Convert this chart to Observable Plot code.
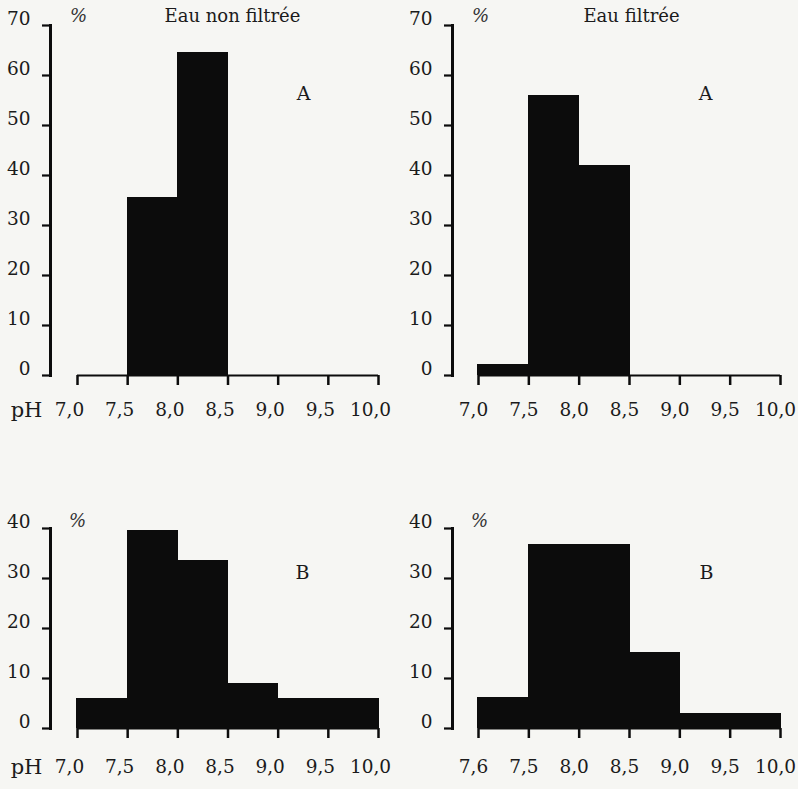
<!DOCTYPE html>
<html>
<head>
<meta charset="utf-8">
<script src="https://cdn.jsdelivr.net/npm/d3@7"></script>
<script src="https://cdn.jsdelivr.net/npm/@observablehq/plot@0.6"></script>
<style>
  html, body { margin: 0; padding: 0; background: #f6f6f3; }
  #wrap { position: relative; width: 798px; height: 789px; overflow: hidden; }
  .panel { position: absolute; }
  .panel svg { overflow: visible; }
</style>
</head>
<body>
<div id="wrap"></div>
<script>
// ---- data ----
const phTicks = [7.0, 7.5, 8.0, 8.5, 9.0, 9.5, 10.0];
const phLabels = ["7,0", "7,5", "8,0", "8,5", "9,0", "9,5", "10,0"];
const phLabelsBR = ["7,6", "7,5", "8,0", "8,5", "9,0", "9,5", "10,0"];
const binLo = [7.0, 7.5, 8.0, 8.5, 9.0, 9.5];
const binHi = [7.5, 8.0, 8.5, 9.0, 9.5, 10.0];
const pctA_nonFiltree = [0, 35.7, 64.6, 0, 0, 0];
const pctA_filtree = [2.3, 56, 42.1, 0, 0, 0];
const pctB_nonFiltree = [6.1, 39.6, 33.7, 9.0, 6.1, 6.1];
const pctB_filtree = [6.2, 36.8, 36.8, 15.2, 3.1, 3.1];
const yTicksA = [0, 10, 20, 30, 40, 50, 60, 70];
const yTicksB = [0, 10, 20, 30, 40];
const titles = ["Eau non filtrée", "Eau filtrée"];
const letters = ["A", "B"];

const FONT = "DejaVu Serif";
const INK = "#0c0c0c";
const TXT = "#1b1b1b";

function panel(o) {
  const bins = binLo.map((lo, i) => ({lo, hi: binHi[i], v: o.values[i]})).filter(d => d.v > 0);
  const yMax = o.yTicks[o.yTicks.length - 1];
  const marks = [
    Plot.rectY(bins, {x1: "lo", x2: "hi", y: "v", fill: INK, insetLeft: -0.6, insetRight: -0.6, shapeRendering: "crispEdges"}),
    Plot.ruleY([0], {x1: phTicks[0], x2: phTicks[phTicks.length - 1], stroke: INK, strokeWidth: 2}),
    Plot.frame({anchor: "left", stroke: INK, strokeWidth: 3}),
    Plot.axisY({ticks: o.yTicks, tickSize: 8, strokeWidth: 2.2, stroke: INK, fill: "none", label: null}),
    Plot.axisX({ticks: phTicks, tickSize: 10, strokeWidth: 2.5, stroke: INK, fill: "none", label: null}),
    Plot.text(o.yTicks, {y: d => d, text: d => String(d), frameAnchor: "left", textAnchor: "end", lineAnchor: "middle", dx: -20, dy: -6, fill: TXT, fontSize: 18.5}),
    Plot.text(phTicks, {x: d => d, text: (d, i) => o.tickLabels[i], frameAnchor: "bottom", lineAnchor: "middle", dx: o.labelDx, dy: o.labelDy, fill: TXT, fontSize: 18.5}),
    Plot.text(["%"], {frameAnchor: "top-left", textAnchor: "middle", lineAnchor: "middle", dx: o.pctDx, dy: o.pctDy, fontStyle: "italic", fontSize: 18, fill: "#333"}),
    Plot.text([o.letter], {frameAnchor: "top-right", textAnchor: "middle", lineAnchor: "middle", dx: o.letterDx, dy: o.letterDy, fontSize: 19, fill: TXT})
  ];
  if (o.title) marks.push(Plot.text([o.title], {frameAnchor: "top", textAnchor: "middle", lineAnchor: "middle", dx: o.titleDx, dy: -9, fontSize: 18, fill: TXT}));
  if (o.showPH) marks.push(Plot.text(["pH"], {frameAnchor: "bottom-left", textAnchor: "middle", lineAnchor: "middle", dx: -24, dy: o.labelDy, fontSize: 21, fill: TXT}));

  const svg = Plot.plot({
    width: o.width,
    height: o.height,
    marginLeft: o.marginLeft,
    marginRight: o.marginRight,
    marginTop: o.marginTop,
    marginBottom: o.marginBottom,
    x: {domain: [phTicks[0], phTicks[phTicks.length - 1]], range: o.xRange, label: null},
    y: {domain: [0, yMax], label: null},
    style: {fontFamily: FONT, fontSize: "18px", background: "transparent", color: INK, overflow: "visible"},
    marks
  });
  const div = document.createElement("div");
  div.className = "panel";
  div.style.left = o.left + "px";
  div.style.top = o.top + "px";
  div.appendChild(svg);
  document.getElementById("wrap").appendChild(div);
}

// Top-left: A, eau non filtrée
panel({left: 0, top: 0, width: 399, height: 440, marginLeft: 50, marginRight: 21, marginTop: 25, marginBottom: 65,
  xRange: [77, 378], yTicks: yTicksA, values: pctA_nonFiltree, tickLabels: phLabels,
  title: titles[0], titleDx: 18, letter: letters[0], letterDx: -75, letterDy: 68,
  pctDx: 28, pctDy: -9, labelDx: -8, labelDy: 35, showPH: true});
// Top-right: A, eau filtrée
panel({left: 400, top: 0, width: 398, height: 440, marginLeft: 52, marginRight: 18, marginTop: 25, marginBottom: 65,
  xRange: [78, 380], yTicks: yTicksA, values: pctA_filtree, tickLabels: phLabels,
  title: titles[1], titleDx: 15, letter: letters[0], letterDx: -75, letterDy: 68,
  pctDx: 28, pctDy: -9, labelDx: -5, labelDy: 35, showPH: false});
// Bottom-left: B, eau non filtrée
panel({left: 0, top: 470, width: 399, height: 319, marginLeft: 50, marginRight: 21, marginTop: 58, marginBottom: 61,
  xRange: [77, 378], yTicks: yTicksB, values: pctB_nonFiltree, tickLabels: phLabels,
  title: null, letter: letters[1], letterDx: -76, letterDy: 44,
  pctDx: 27, pctDy: -7, labelDx: -8, labelDy: 39, showPH: true});
// Bottom-right: B, eau filtrée
panel({left: 400, top: 470, width: 398, height: 319, marginLeft: 52, marginRight: 18, marginTop: 58, marginBottom: 61,
  xRange: [78, 380], yTicks: yTicksB, values: pctB_filtree, tickLabels: phLabelsBR,
  title: null, letter: letters[1], letterDx: -74, letterDy: 44,
  pctDx: 27, pctDy: -7, labelDx: -5, labelDy: 39, showPH: false});
</script>
</body>
</html>
